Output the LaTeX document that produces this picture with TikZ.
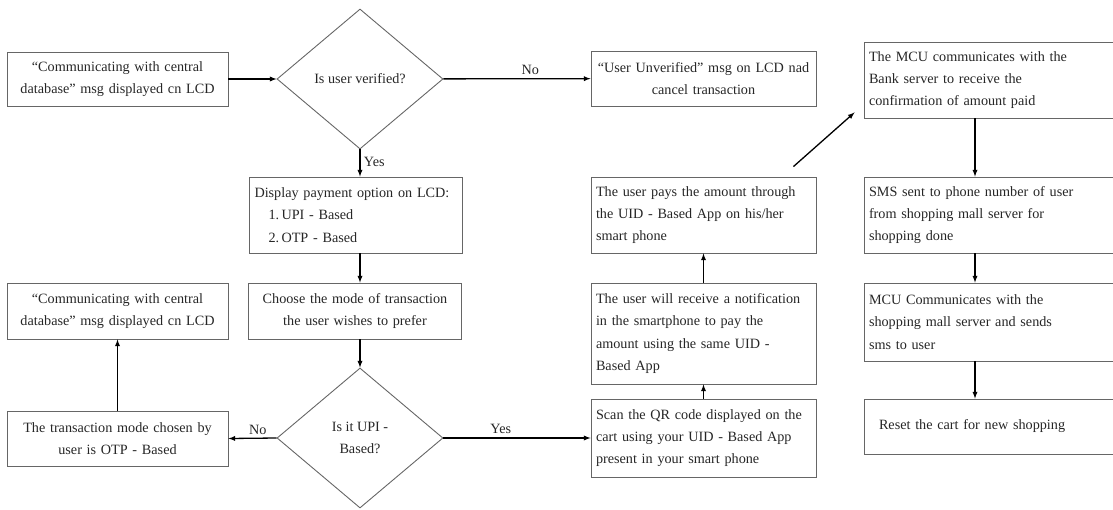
\documentclass[tikz,border=0pt]{standalone}
\usepackage{fontspec}
\setmainfont{Liberation Serif}
\usepackage{tikz}
\usetikzlibrary{arrows,shapes.geometric,calc}
\newcommand{\boxfont}{\fontsize{14.2}{22.3}\selectfont}

\begin{document}
\begin{tikzpicture}[x=1pt,y=-1pt,
	blk/.style={rectangle, draw=black!60, line width=0.9pt, inner xsep=5pt, inner ysep=0pt, font=\boxfont, text=black!85},
	dec/.style={diamond, draw=black!60, line width=0.9pt, minimum width=166pt, minimum height=140pt, inner sep=0pt, align=center, font=\boxfont, text=black!85},
	arr/.style={-latex, line width=1.3pt},
	lbl/.style={font=\boxfont, text=black!85}]
	\clip (0,0) rectangle (1113,509);
	% left part
	\node[blk, text width=211pt, align=center, minimum height=54pt] (comm1) at (117.5,79) {“Communicating with central\\ database” msg displayed cn LCD};
	\node[dec] (verif) at (360,79) {Is user verified?};
	\node[blk, text width=215pt, align=center, minimum height=55pt] (unver) at (703.5,78.5) {“User Unverified” msg on LCD nad\\ cancel transaction};
	\node[blk, text width=203pt, align=left, minimum height=76pt] (payopt) at (356,215) {Display payment option on LCD:\\ \hspace*{14pt}1.\,UPI - Based\\ \hspace*{14pt}2.\,OTP - Based};
	\node[blk, text width=203pt, align=center, minimum height=56pt] (choose) at (355,311) {Choose the mode of transaction\\ the user wishes to prefer};
	\node[dec] (upi) at (360,438) {Is it UPI -\\ Based?};
	\node[blk, text width=211pt, align=center, minimum height=56pt] (comm2) at (117.5,311) {“Communicating with central\\ database” msg displayed cn LCD};
	\node[blk, text width=211pt, align=center, minimum height=55pt] (otp) at (117.5,438.5) {The transaction mode chosen by\\ user is OTP - Based};
	% UPI column
	\node[blk, text width=215pt, align=left, minimum height=78pt] (scan) at (703.5,438) {Scan the QR code displayed on the\\ cart using your UID - Based App\\ present in your smart phone};
	\node[blk, text width=215pt, align=left, minimum height=101pt] (notif) at (703.5,333.5) {The user will receive a notification\\ in the smartphone to pay the\\ amount using the same UID -\\ Based App};
	\node[blk, text width=215pt, align=left, minimum height=76pt] (pay) at (703.5,215) {The user pays the amount through\\ the UID - Based App on his/her\\ smart phone};
	% MCU column
	\node[blk, text width=242pt, align=left, minimum height=76pt] (bank) at (990,80) {The MCU communicates with the\\ Bank server to receive the\\ confirmation of amount paid};
	\node[blk, text width=242pt, align=left, minimum height=76pt] (sms) at (990,215) {SMS sent to phone number of user\\ from shopping mall server for\\ shopping done};
	\node[blk, text width=242pt, align=left, minimum height=78pt] (mall) at (990,322) {MCU Communicates with the\\ shopping mall server and sends\\ sms to user};
	\node[blk, text width=242pt, align=left, minimum height=55pt] (reset) at (990,426.5) {\hspace*{10pt}Reset the cart for new shopping};
	\coordinate (mx) at (975,0);
	% arrows
	\draw[arr] (comm1) -- (verif);
	\draw[arr] (verif) -- node[lbl, above, pos=0.59] {No} (unver);
	\draw[arr] (verif.south) -- node[lbl, right, pos=0.45] {Yes} (verif.south |- payopt.north);
	\draw[arr] (verif.south |- payopt.south) -- (verif.south |- choose.north);
	\draw[arr] (verif.south |- choose.south) -- (upi.north);
	\draw[arr] (upi.west) -- node[lbl, above, pos=0.39] {No} (otp.east);
	\draw[arr] (otp) -- (comm2);
	\draw[arr] (upi.east) -- node[lbl, above, pos=0.39] {Yes} (scan.west);
	\draw[arr] (scan) -- (notif);
	\draw[arr] (notif) -- (pay);
	\draw[arr] ($(pay.north east)+(-23,-10)$) -- ($(bank.south west)+(-9,-6)$);
	\draw[arr] (bank.south -| mx) -- (sms.north -| mx);
	\draw[arr] (sms.south -| mx) -- (mall.north -| mx);
	\draw[arr] (mall.south -| mx) -- (reset.north -| mx);
\end{tikzpicture}
\end{document}
